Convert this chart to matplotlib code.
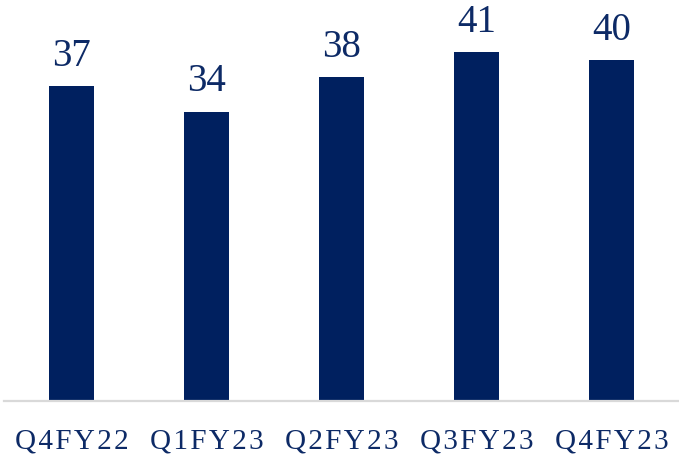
import matplotlib.pyplot as plt
from matplotlib import rcParams

rcParams['font.family'] = ['Liberation Serif', 'DejaVu Serif']

# data
quarters = ["Q4FY22", "Q1FY23", "Q2FY23", "Q3FY23", "Q4FY23"]
values = [37, 34, 38, 41, 40]

navy = '#00205f'
text_color = '#0d2a66'

fig = plt.figure(figsize=(6.79, 4.61), dpi=100)
ax = fig.add_axes([4 / 679, 60 / 461, 675 / 679, 401 / 461])

x = range(len(quarters))
bars = ax.bar(x, values, width=0.34, color=navy, zorder=2)

for b, v in zip(bars, values):
    ax.text(b.get_x() + b.get_width() / 2, v + 2.4, str(v),
            ha='center', va='baseline', fontsize=28, color=text_color)

# letter spaced tick labels
spaced = ['\u200a'.join(q) for q in quarters]
ax.set_xticks(list(x))
ax.set_xticklabels(spaced, fontsize=21, color=text_color)
ax.tick_params(axis='x', length=0, pad=20)
ax.set_yticks([])

ax.set_xlim(-0.5, 4.5)
ax.set_ylim(0, 47.1)
for s in ['top', 'right', 'left']:
    ax.spines[s].set_visible(False)
ax.spines['bottom'].set_color('#d9d9d9')
ax.spines['bottom'].set_linewidth(1.6)

plt.savefig('out.png', dpi=100)
